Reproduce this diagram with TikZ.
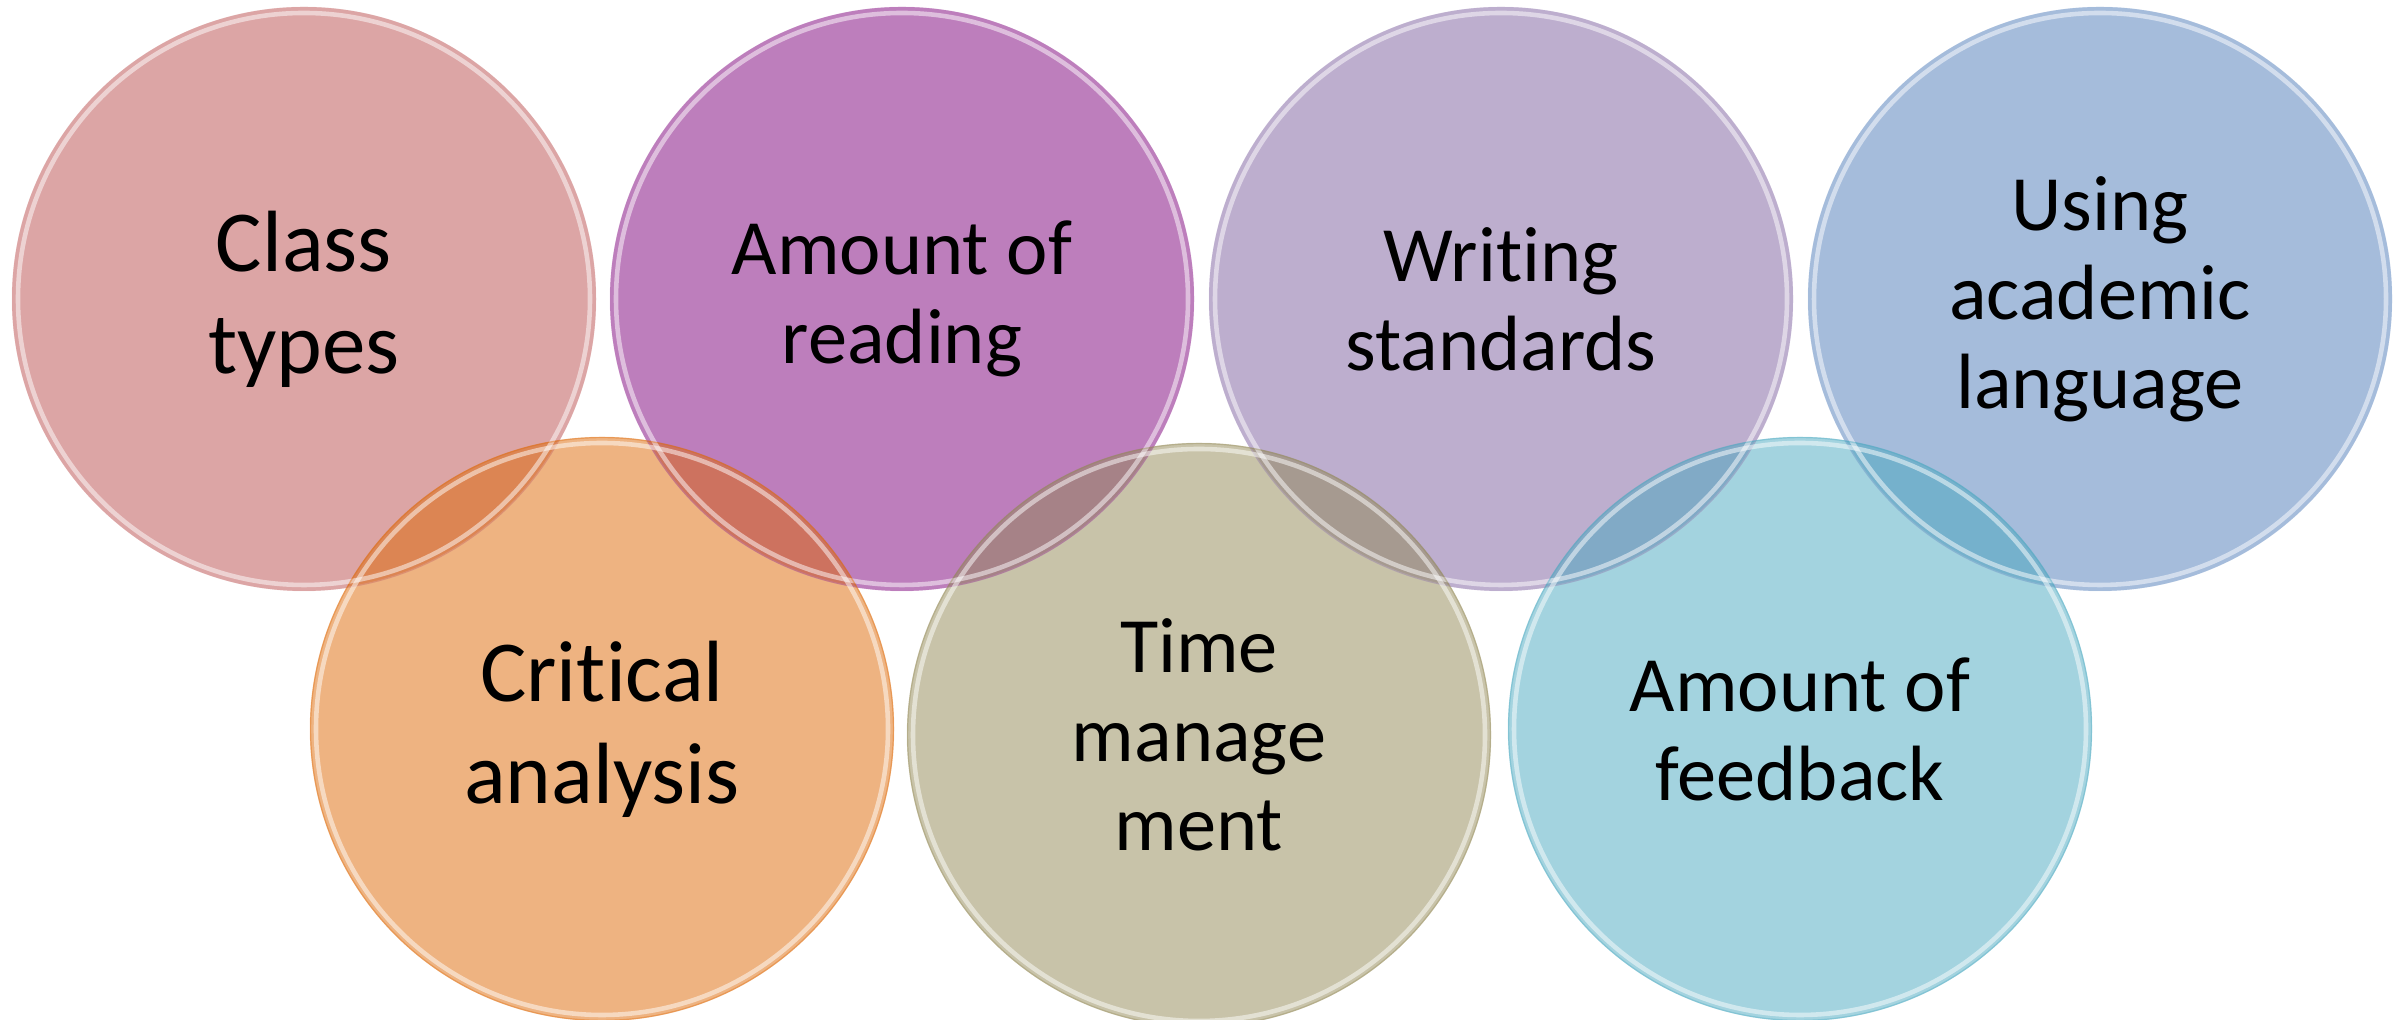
\documentclass[tikz,border=0pt]{standalone}
\usepackage{fontspec}
\setmainfont{Carlito}[Ligatures={NoCommon,NoRare,NoContextual}]

\definecolor{pinkc}{HTML}{DCA5A5}
\definecolor{purplec}{HTML}{BD7EBC}
\definecolor{lavenderc}{HTML}{BDAECE}
\definecolor{bluec}{HTML}{A5BCDB}
% bottom row is half see-through, so its colours are darker
\definecolor{orangec}{HTML}{DD6703}
\definecolor{khakic}{HTML}{918753}
\definecolor{cyanc}{HTML}{47A7BF}

\newcommand{\bigtxt}{\fontsize{24.75}{29}\selectfont}
\newcommand{\smalltxt}{\fontsize{22.3}{25.3}\selectfont}

\begin{document}
\begin{tikzpicture}[
	bubble/.style={circle, inner sep=0pt, minimum size=5.84cm, align=center, text=black},
	glass/.style={bubble, fill opacity=0.5, text opacity=1},
	rim/.style={draw=white, line width=1.3pt, opacity=0.5},
	]
	\useasboundingbox (0,0) rectangle (24.05,10.20);

	% top row
	\node[bubble, fill=pinkc, font=\bigtxt] (class) at (3.04,7.21) {Class\\types};
	\node[bubble, fill=purplec, font=\smalltxt] (reading) at (9.02,7.21) {Amount of\\reading};
	\node[bubble, fill=lavenderc, font=\smalltxt] (writing) at (15.01,7.21) {Writing\\standards};
	\node[bubble, fill=bluec, font=\smalltxt] (language) at (21.00,7.21) {Using\\academic\\language};
	% bottom row
	\node[glass, fill=orangec, font=\bigtxt] (critical) at (6.02,2.91) {Critical\\analysis};
	\node[glass, fill=khakic, font=\smalltxt] (time) at (11.99,2.85) {Time\\manage\\ment};
	\node[glass, fill=cyanc, font=\smalltxt] (feedback) at (18.00,2.91) {Amount of\\feedback};

	% glassy edges
	\foreach \nm/\col in {class/pinkc, reading/purplec, writing/lavenderc, language/bluec,
		critical/orangec, time/khakic, feedback/cyanc}{
		\draw[\col, opacity=0.35, line width=0.4pt] (\nm.center) circle[radius=2.915];
		\draw[rim] (\nm.center) circle[radius=2.86];
	}
\end{tikzpicture}
\end{document}
